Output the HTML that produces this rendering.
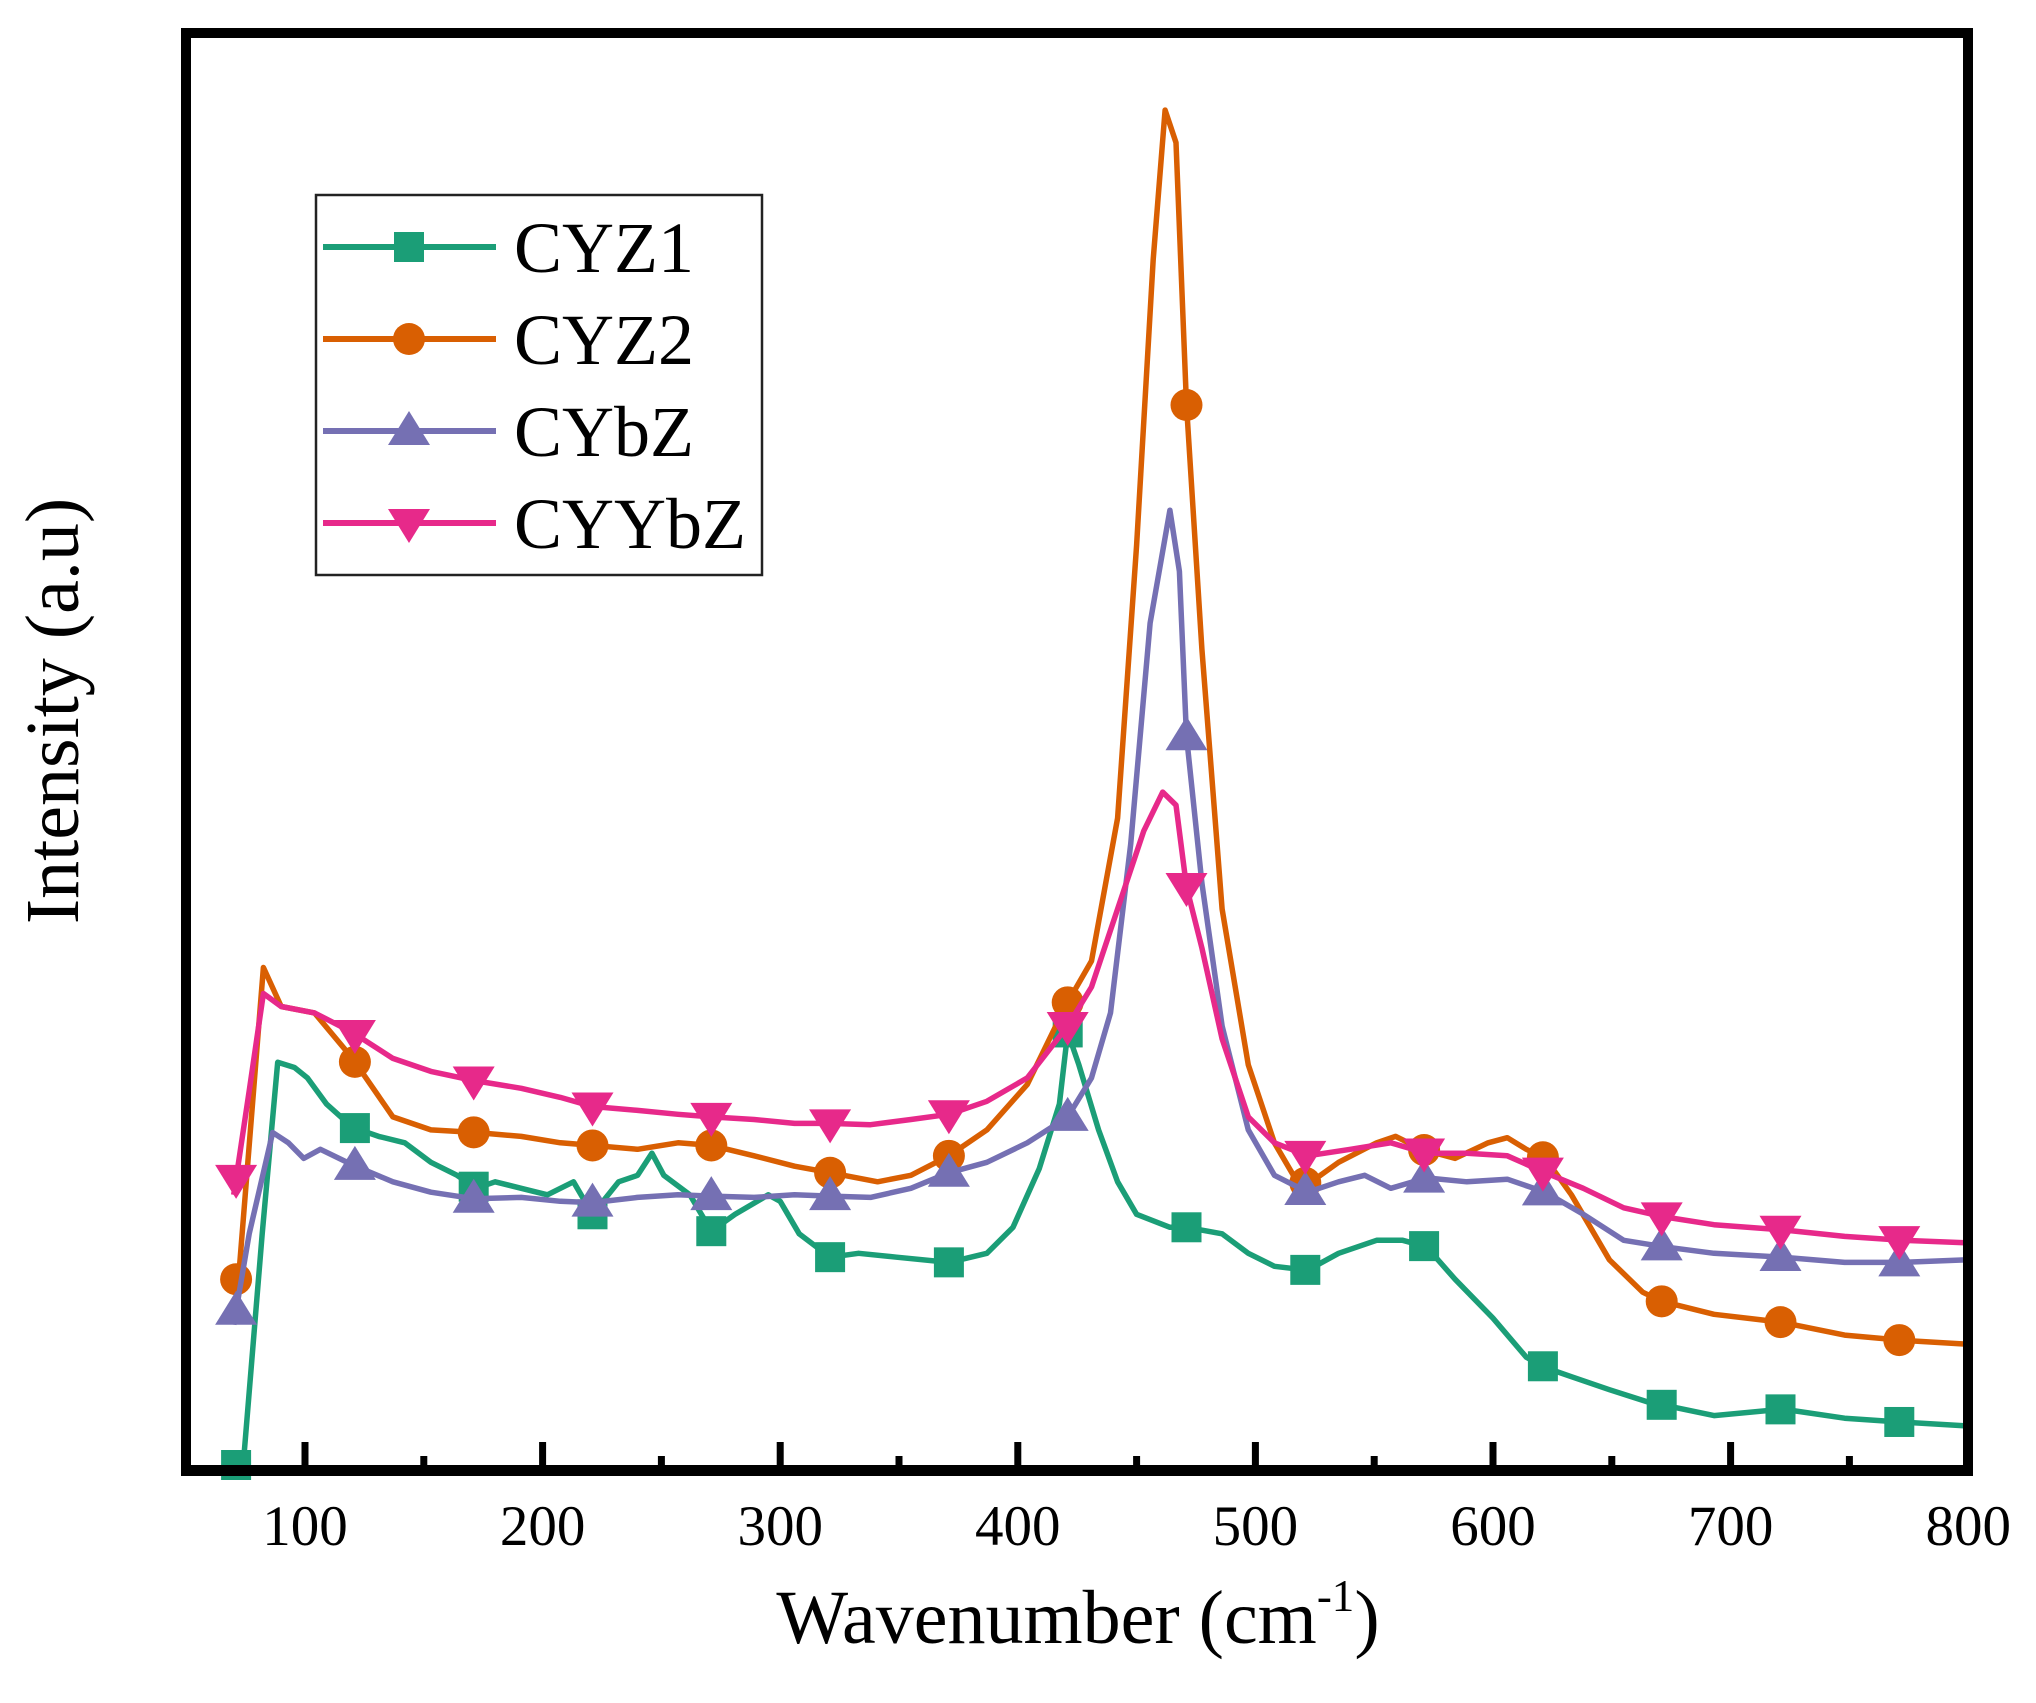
<!DOCTYPE html>
<html><head><meta charset="utf-8">
<style>
html,body{margin:0;padding:0;background:#fff;}
svg{display:block;}
text{font-family:"Liberation Serif",serif;fill:#000;}
</style></head>
<body>
<svg id="chart" width="2036" height="1703" viewBox="0 0 2036 1703">
  <g id="series"></g>
  <rect x="186" y="33" width="1782" height="1437" fill="none" stroke="#000" stroke-width="10"/>
  <line x1="181" y1="1470.5" x2="1973" y2="1470.5" stroke="#000" stroke-width="11"/>
  <g id="ticks"></g>
  <text x="1078" y="1643" font-size="76" text-anchor="middle">Wavenumber (cm<tspan font-size="45" dy="-32">-1</tspan><tspan dy="32">)</tspan></text>
  <text transform="translate(78,711) rotate(-90)" font-size="76" text-anchor="middle">Intensity (a.u)</text>
  <g id="legend">
    <rect x="316" y="195" width="446" height="380" fill="#fff" stroke="#222" stroke-width="2.5"/>
  </g>
</svg>
<script>
const xTickLabels = ["100","200","300","400","500","600","700","800"];
const xTickValues = [100,200,300,400,500,600,700,800];
const minorTickValues = [150,250,350,450,550,650,750];
const seriesNames = ["CYZ1","CYZ2","CYbZ","CYYbZ"];
const markerWavenumbers = [71,121,171,221,271,321,371,421,471,521,571,621,671,721,771];

const cyz1X = [65,74,82,88.5,95.6,101,109,120,131,142,153,164,172,180,191,202,213,221,232,240,246,251,262,271,281,295,300,308,321,333,349,371,387,398,409,417.5,421,425.7,434,442,450,464,471,486,497,508,522,535,551,562,572,584,600,614,622,633,649,666,672,693,722,748,772,800];
const cyz1Y = [-9,-9,169,301,297,289,269,251,244,239,224,214,204,209,204,199,209,184,209,214,231,214,199,171,184,199,194,169,151,154,151,147,154,174,219,269,324,299,249,209,184,174,174,169,154,144,141,154,164,164,159,134,104,74,66,59,49,39,37,29,34,27,24,21];

const cyz2X = [70,72,82.5,90,104,120,137,153,172,191,207.5,221,240,257,271,289,306,321,341,355,371,387,404,420,431,442,450,457,462,466.6,471,477.5,486,497,508,516,522,535,551,559,570,584,598,606,614,622,633,649,663,671,693,721,748,772,800];
const cyz2Y = [134,134,374,344,339,304,259,249,247,244,239,237,234,239,237,229,221,216,209,214,229,249,284,344,379,489,699,919,1034,1009,807,619,419,299,239,214,207,224,239,244,234,227,239,243,234,227,199,149,124,117,107,101,91,87,84];

const cybzX = [70,76.5,86.4,93,99.5,106.5,120,137,153,171,191,207.5,221,240,257,271,289,306,321,338,355,371,387,404,421,431,439,447.5,455.7,464,468,471,477.5,486,497,508,522,535,546,557,572,589,606,622,638,655,672,693,722,748,772,800];
const cybzY = [99,169,247,239,227,234,222,209,201,196,197,194,193,197,199,198,197,199,198,197,204,216,224,239,259,289,339,469,639,726,679,552,439,329,249,214,201,209,214,204,212,209,211,201,184,164,159,154,151,147,147,149];

const cyybzX = [70,76.5,82.5,90,104,120,137,153,171,191,207.5,221,240,257,271,289,306,321,338,355,371,387,404,421,431,442,453,461,466.6,471,477.5,486,497,508,522,540,557,572,589,606,622,638,655,672,693,722,748,772,800];
const cyybzY = [199,279,354,344,339,324,304,294,287,281,274,267,264,261,259,257,254,254,253,257,261,271,289,329,359,419,479,509,499,436,389,319,259,239,229,234,239,231,231,229,216,204,189,182,176,172,167,164,162];

const NS = "http://www.w3.org/2000/svg";
function xPix(v){ return 305 + (v - 100) * 2.376; }
function yPix(i){ return 1465 - (i + 9) * 1.299; }
function interp(xs, ys, v){
  if (v <= xs[0]) return ys[0];
  for (let k = 1; k < xs.length; k++){
    if (v <= xs[k]){ const t = (v - xs[k-1]) / (xs[k] - xs[k-1]); return ys[k-1] + t * (ys[k] - ys[k-1]); }
  }
  return ys[ys.length-1];
}
function mk(tag, attrs){ const e = document.createElementNS(NS, tag); for (const k in attrs) e.setAttribute(k, attrs[k]); return e; }
function marker(type, cx, cy, color){
  let e;
  if (type === "square") e = mk("rect", {x: cx-15, y: cy-15, width: 30, height: 30, fill: color});
  else if (type === "circle") e = mk("circle", {cx: cx, cy: cy, r: 16, fill: color});
  else if (type === "up") e = mk("polygon", {points: `${cx},${cy-20} ${cx+21},${cy+14} ${cx-21},${cy+14}`, fill: color});
  else e = mk("polygon", {points: `${cx-21},${cy-14} ${cx+21},${cy-14} ${cx},${cy+20}`, fill: color});
  return e;
}

const seriesG = document.getElementById("series");
const defs = [
  {name: "cyz1", xs: cyz1X, ys: cyz1Y, color: "#1b9e77", m: "square"},
  {name: "cyz2", xs: cyz2X, ys: cyz2Y, color: "#d95f02", m: "circle"},
  {name: "cybz", xs: cybzX, ys: cybzY, color: "#7570b3", m: "up"},
  {name: "cyybz", xs: cyybzX, ys: cyybzY, color: "#e7298a", m: "down"}
];
defs.forEach(function(s){
  const g = mk("g", {});
  
  
  const pts = s.xs.map(function(v, k){ return xPix(v).toFixed(1) + "," + yPix(s.ys[k]).toFixed(1); }).join(" ");
  const line = mk("polyline", {points: pts, fill: "none", stroke: s.color, "stroke-width": 5.5, "stroke-linejoin": "round"});
  
  
  g.appendChild(line);
  markerWavenumbers.forEach(function(v){
    const mEl = marker(s.m, xPix(v), yPix(interp(s.xs, s.ys, v)), s.color);
    
    
    g.appendChild(mEl);
  });
  seriesG.appendChild(g);
});

const tickG = document.getElementById("ticks");
xTickValues.forEach(function(v, k){
  const t = mk("line", {x1: xPix(v), y1: 1442, x2: xPix(v), y2: 1468, stroke: "#000", "stroke-width": 7});
  
  
  tickG.appendChild(t);
  const lb = mk("text", {x: xPix(v), y: 1545, "font-size": 57, "text-anchor": "middle"});
  lb.textContent = xTickLabels[k];
  
  
  tickG.appendChild(lb);
});
minorTickValues.forEach(function(v){
  const t = mk("line", {x1: xPix(v), y1: 1456, x2: xPix(v), y2: 1468, stroke: "#000", "stroke-width": 7});
  
  
  tickG.appendChild(t);
});

const legG = document.getElementById("legend");
defs.forEach(function(s, k){
  const cy = 247 + k * 92;
  const row = mk("g", {});
  
  
  row.appendChild(mk("line", {x1: 323, y1: cy, x2: 496, y2: cy, stroke: s.color, "stroke-width": 6}));
  row.appendChild(marker(s.m, 409, cy, s.color));
  const tx = mk("text", {x: 514, y: cy + 25, "font-size": 72});
  tx.textContent = seriesNames[k];
  row.appendChild(tx);
  legG.appendChild(row);
});
</script>
</body></html>
